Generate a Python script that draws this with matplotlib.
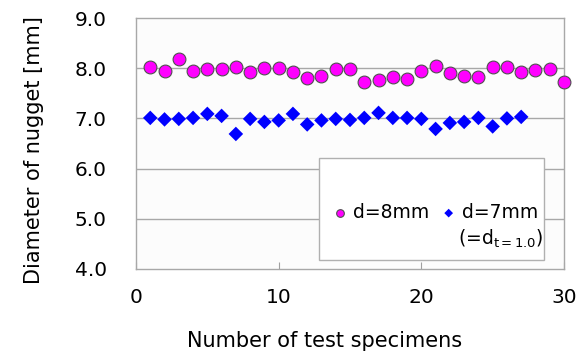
import matplotlib
matplotlib.use("Agg")
import matplotlib.pyplot as plt
from matplotlib.patches import Rectangle

plt.rcParams.update({
    'font.family': ['DejaVu Sans'],
    'xtick.direction': 'in', 'ytick.direction': 'in',
})

# nugget diameter readings per specimen
spec_8 = list(range(1, 31))
dia_8 = [8.02, 7.95, 8.18, 7.95, 7.98, 7.99, 8.03, 7.93, 8.01, 8.01,
         7.93, 7.80, 7.85, 7.99, 7.99, 7.73, 7.77, 7.83, 7.78, 7.95,
         8.05, 7.91, 7.85, 7.82, 8.02, 8.02, 7.92, 7.97, 7.98, 7.72]

spec_7 = list(range(1, 28))
dia_7 = [7.01, 6.98, 6.99, 7.01, 7.09, 7.05, 6.69, 6.99, 6.93, 6.96,
         7.09, 6.88, 6.96, 6.99, 6.97, 7.01, 7.11, 7.01, 7.01, 6.99,
         6.79, 6.91, 6.93, 7.01, 6.84, 7.00, 7.03]

y_ticks = [4.0, 5.0, 6.0, 7.0, 8.0, 9.0]
x_ticks = [0, 10, 20, 30]

fig = plt.figure(figsize=(5.83, 3.56), dpi=100)
ax = fig.add_axes([136 / 583, 1 - 269 / 356, 428 / 583, 251 / 356])
ax.set_facecolor('#fcfcfc')

for y in y_ticks[1:-1]:
    ax.axhline(y, color='#a8a8a8', linewidth=1.0, zorder=1)

ax.scatter(spec_8, dia_8, s=85, marker='o', facecolor='#ff00ff',
           edgecolor='#505050', linewidth=0.8, zorder=3, clip_on=False)
ax.scatter(spec_7, dia_7, s=55, marker='D', facecolor='#0000ff',
           edgecolor='none', zorder=3, clip_on=False)

ax.set_xlim(0, 30)
ax.set_ylim(4.0, 9.0)
ax.set_xticks(x_ticks)
ax.set_yticks(y_ticks)
ax.set_yticklabels([f"{v:.1f}" for v in y_ticks])
ax.tick_params(axis='y', length=0, pad=21, labelsize=14.5)
ax.tick_params(axis='x', length=5, color='#a0a0a0', pad=14, labelsize=14.5)
for s in ax.spines.values():
    s.set_color('#a8a8a8')
    s.set_linewidth(1.0)

ax.set_xlabel("Number of test specimens", fontsize=15, labelpad=17)
ax.set_ylabel("Diameter of nugget [mm]", fontsize=15, labelpad=22)
ax.xaxis.label.set_x(0.44)
ax.yaxis.label.set_y(0.475)

# legend box with two entries and a note under the second one
ax.add_patch(Rectangle((12.8, 4.18), 15.8, 2.04, facecolor='white',
                       edgecolor='#b0b0b0', linewidth=1.0, zorder=4))
leg = ax.legend(
    [ax.collections[0], ax.collections[1]], ["d=8mm", "d=7mm"],
    ncol=2, frameon=False, loc='center left',
    bbox_to_anchor=(0.41, 0.225), fontsize=13.5,
    handletextpad=0.1, columnspacing=0.45, handlelength=1.2,
    markerscale=0.6,
)
leg.set_zorder(5)
ax.text(28.55, 4.6, "(=d$_{\\mathregular{t=1.0}}$)", fontsize=13.5,
        ha='right', va='center', zorder=5)

fig.savefig("out.png", dpi=100)
